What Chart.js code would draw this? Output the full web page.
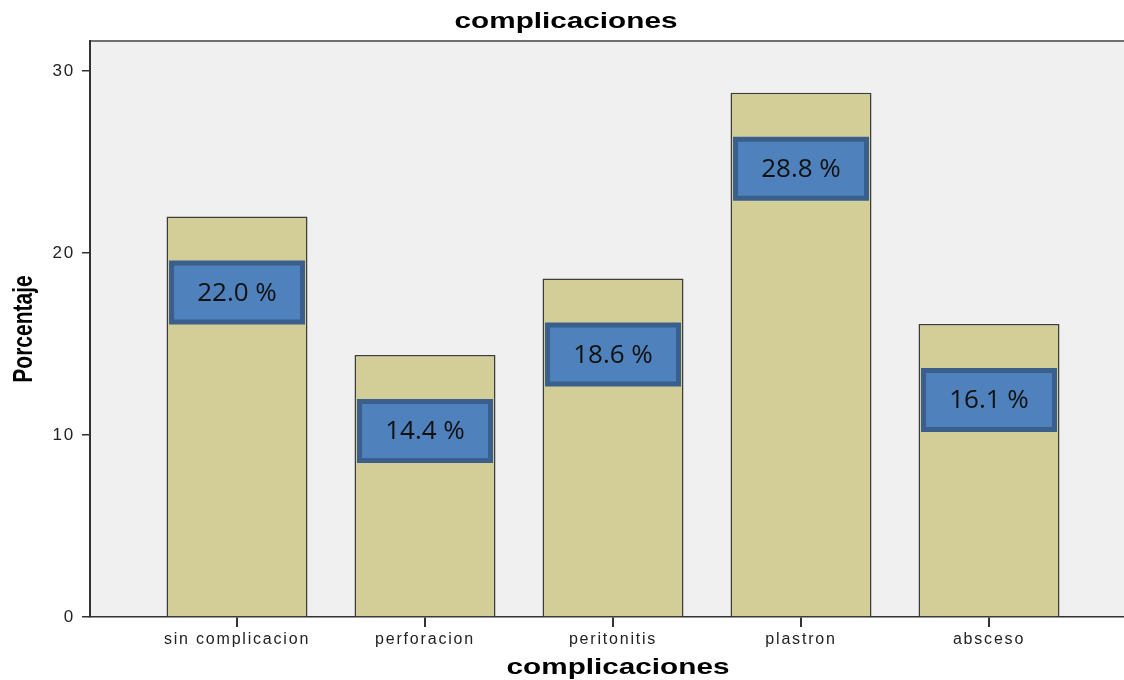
<!DOCTYPE html>
<html>
<head>
<meta charset="utf-8">
<script src="https://cdn.jsdelivr.net/npm/chart.js@4/dist/chart.umd.min.js"></script>
<style>
    body { margin: 0; background: #ffffff; }
    #wrap { width: 1124px; height: 680px; }
</style>
</head>
<body>
<div id="wrap">
    <canvas id="chart" width="1124" height="680"></canvas>
</div>
<script>
// datos
const categorias = ['sin complicacion', 'perforacion', 'peritonitis', 'plastron', 'absceso'];
const porcentajes = [22.0, 14.4, 18.6, 28.8, 16.1];
const yTicks = [0, 10, 20, 30];

const tituloGrafico = 'complicaciones';
const tituloX = 'complicaciones';
const tituloY = 'Porcentaje';

// the picture looks stretched sideways, so titles get stretched too
const estirar = 1.35;

const fondoPlugin = {
    id: 'fondo',
    beforeDraw(chart) {
        const {ctx, chartArea} = chart;
        ctx.save();
        ctx.fillStyle = '#f0f0f0';
        ctx.fillRect(chartArea.left, chartArea.top, chartArea.right - chartArea.left, chartArea.bottom - chartArea.top);
        ctx.strokeStyle = '#707070';
        ctx.lineWidth = 2;
        ctx.beginPath();
        ctx.moveTo(chartArea.left, chartArea.top);
        ctx.lineTo(chartArea.right, chartArea.top);
        ctx.stroke();
        ctx.restore();
        // tick labels are spaced out a bit
        ctx.letterSpacing = '1.8px';
    },
    beforeDatasetsDraw(chart) {
        chart.ctx.letterSpacing = '0px';
    },
    afterDatasetsDraw(chart) {
        const ctx = chart.ctx;
        const meta = chart.getDatasetMeta(0);
        ctx.save();
        meta.data.forEach(function (bar, i) {
            const w = bar.width - 10;
            const h = 59;
            const cy = bar.y + 76;
            ctx.fillStyle = '#4f81bd';
            ctx.strokeStyle = '#3b5f8c';
            ctx.lineWidth = 5;
            ctx.beginPath();
            ctx.rect(bar.x - w / 2, cy - h / 2, w, h);
            ctx.fill();
            ctx.stroke();
            ctx.fillStyle = '#111111';
            ctx.font = '26px "Open Sans", sans-serif';
            ctx.textAlign = 'center';
            ctx.textBaseline = 'middle';
            ctx.fillText(porcentajes[i].toFixed(1) + ' %', bar.x, cy + 1);
        });
        ctx.restore();
    },
    afterDraw(chart) {
        const ctx = chart.ctx;
        const xs = chart.scales.x;
        ctx.save();
        ctx.letterSpacing = '0px';
        ctx.fillStyle = '#000000';
        ctx.textAlign = 'center';
        ctx.textBaseline = 'middle';
        ctx.font = 'bold 22px "Liberation Sans", Arial, sans-serif';

        // titulo arriba
        ctx.save();
        ctx.translate(chart.width / 2 + 4, 22);
        ctx.scale(estirar, 1);
        ctx.fillText(tituloGrafico, 0, 0);
        ctx.restore();

        // titulo eje x
        ctx.save();
        ctx.translate(xs.getPixelForValue(2) + 5, 668);
        ctx.scale(estirar, 1);
        ctx.fillText(tituloX, 0, 0);
        ctx.restore();

        // titulo eje y
        const area = chart.chartArea;
        ctx.save();
        ctx.font = 'bold 21px "Liberation Sans", Arial, sans-serif';
        ctx.translate(24, (area.top + area.bottom) / 2);
        ctx.scale(estirar, 1);
        ctx.rotate(-Math.PI / 2);
        ctx.fillText(tituloY, 0, 0);
        ctx.restore();

        ctx.restore();
    }
};

let chartCanvas = document.getElementById('chart');

let myChart = new Chart(chartCanvas, {
    type: 'bar',
    data: {
        datasets: [{
            label: tituloY,
            data: porcentajes.map((v, i) => ({x: i, y: v})),
            backgroundColor: '#d3ce98',
            borderColor: '#3c3c3c',
            borderWidth: 1.5,
            barPercentage: 0.75,
            categoryPercentage: 1
        }]
    },
    options: {
        responsive: false,
        animation: false,
        layout: {padding: {top: 41, left: 0, right: 0, bottom: 0}},
        plugins: {
            legend: {display: false},
            tooltip: {enabled: false},
            title: {display: false}
        },
        scales: {
            x: {
                type: 'linear',
                offset: false,
                min: -0.782,
                max: 4.718,
                afterBuildTicks: s => { s.ticks = categorias.map((c, i) => ({value: i})); },
                afterFit: s => { s.height = 63; },
                ticks: {
                    autoSkip: false,
                    maxRotation: 0,
                    padding: 3,
                    color: '#222222',
                    font: {family: '"Liberation Sans", Arial, sans-serif', size: 16},
                    callback: v => categorias[v]
                },
                grid: {offset: false, drawOnChartArea: false, tickLength: 10, color: '#333333', lineWidth: 2},
                border: {color: '#333333', width: 1.5}
            },
            y: {
                position: 'left',
                min: 0,
                max: 31.65,
                afterBuildTicks: s => { s.ticks = yTicks.map(v => ({value: v})); },
                afterFit: s => { s.width = 90; },
                ticks: {
                    padding: 7,
                    color: '#222222',
                    font: {family: '"Liberation Sans", Arial, sans-serif', size: 17}
                },
                grid: {drawOnChartArea: false, tickLength: 8, color: '#333333', lineWidth: 1.5},
                border: {color: '#333333', width: 2}
            }
        }
    },
    plugins: [fondoPlugin]
});
</script>
</body>
</html>
